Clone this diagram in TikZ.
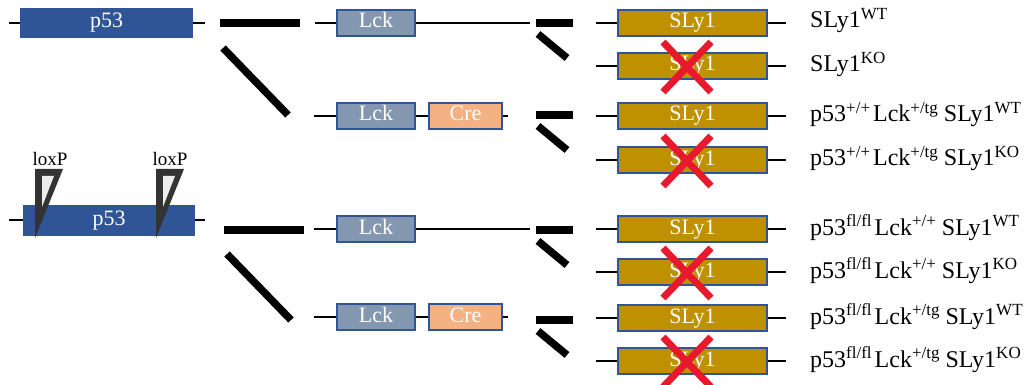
\documentclass[tikz,border=0pt]{standalone}
\usepackage{fontspec}
\setmainfont{Liberation Serif}
\usetikzlibrary{calc}
\definecolor{pblue}{HTML}{2F5597}
\definecolor{lckfill}{HTML}{8497B0}
\definecolor{crefill}{HTML}{F4B183}
\definecolor{slyfill}{HTML}{BF9000}
\definecolor{xred}{HTML}{E8192C}
\definecolor{loxdark}{HTML}{333333}
\definecolor{loxlight}{HTML}{EDEDED}
\newcommand\sps[1]{\raisebox{0.36em}{\fontsize{17}{17}\selectfont #1}}
\begin{document}
\begin{tikzpicture}[x=1pt,y=-1pt,
  box/.style={line width=2pt, draw=pblue, text=white, font=\fontsize{22}{22}\selectfont,
    inner sep=0pt, text height=14.5pt, text depth=4.5pt, minimum height=26pt},
  p53box/.style={box, fill=pblue, line width=0.6pt, minimum height=29pt, minimum width=172pt},
  lckbox/.style={box, fill=lckfill, minimum width=78pt},
  crebox/.style={box, fill=crefill, minimum width=73pt},
  slybox/.style={box, fill=slyfill, minimum width=149pt},
  thinline/.style={line width=1.1pt, draw=black},
  bar/.style={line width=7.5pt, draw=black},
  sbar/.style={line width=7.5pt, draw=black},
  xline/.style={line width=7pt, draw=xred},
  lbl/.style={anchor=base west, inner sep=0pt, font=\fontsize{24}{24}\selectfont},
  loxlbl/.style={anchor=base, inner sep=0pt, font=\fontsize{19}{19}\selectfont},
]
\useasboundingbox (0,0) rectangle (1031,385);

% ---------- top group: wild-type p53 ----------
\coordinate (pa1) at (9,23); \coordinate (pa2) at (205,23);
\draw[thinline] (pa1) -- (pa2);
\node[p53box] (p53a) at (106.5,23) {p53};

\coordinate (ba1) at (220,23); \coordinate (ba2) at (300,23);
\draw[bar] (ba1) -- (ba2);
\coordinate (da1) at (223,48); \coordinate (da2) at (288,115);
\draw[bar] (da1) -- (da2);

% row Lck (y=23)
\coordinate (l1a) at (315,23); \coordinate (l1b) at (530,23);
\draw[thinline] (l1a) -- (l1b);
\node[lckbox] (lck1) at (376,23) {Lck};

% row Lck Cre (y=116)
\coordinate (l2a) at (314,116); \coordinate (l2b) at (508,116);
\draw[thinline] (l2a) -- (l2b);
\node[lckbox] (lck2) at (376,116) {Lck};
\node[crebox] (cre2) at (465.5,116) {Cre};

% ---------- bottom group: floxed p53 ----------
\coordinate (pb1) at (9,220); \coordinate (pb2) at (205,220);
\draw[thinline] (pb1) -- (pb2);
\node[p53box, minimum width=171pt, minimum height=30pt] (p53b) at (109,220) {p53};

% loxP triangles
\foreach \x/\n in {35/1,156/2}{
  \fill[loxdark] (\x,169) -- (\x+28,169) -- (\x,238) -- cycle;
  \fill[loxlight] (\x+7,176) -- (\x+19,176) -- (\x+7,207) -- cycle;
}
\node[loxlbl] (lox1) at (50,166) {loxP};
\node[loxlbl] (lox2) at (170,166) {loxP};

\coordinate (bb1) at (224,230); \coordinate (bb2) at (304,230);
\draw[bar] (bb1) -- (bb2);
\coordinate (db1) at (227,254); \coordinate (db2) at (291,320);
\draw[bar] (db1) -- (db2);

% row Lck (y=229)
\coordinate (l3a) at (314,229); \coordinate (l3b) at (530,229);
\draw[thinline] (l3a) -- (l3b);
\node[lckbox] (lck3) at (376,229) {Lck};

% row Lck Cre (y=317)
\coordinate (l4a) at (314,317); \coordinate (l4b) at (508,317);
\draw[thinline] (l4a) -- (l4b);
\node[lckbox] (lck4) at (376,317) {Lck};
\node[crebox] (cre4) at (465.5,317) {Cre};

% ---------- small bars ----------
\foreach \y/\n in {23/1,115/2,230/3,320/4}{
  \coordinate (sh\n a) at (536,\y); \coordinate (sh\n b) at (573,\y);
  \draw[sbar] (sh\n a) -- (sh\n b);
  \coordinate (sd\n a) at (538,\y+11); \coordinate (sd\n b) at (567,\y+35);
  \draw[sbar] (sd\n a) -- (sd\n b);
}

% ---------- SLy1 rows ----------
\foreach \y/\n in {23/1,66/2,116/3,160/4,229/5,272/6,318/7,361/8}{
  \coordinate (sa\n) at (596,\y); \coordinate (sb\n) at (786,\y);
  \draw[thinline] (sa\n) -- (sb\n);
  \node[slybox] (sly\n) at (692.5,\y) {SLy1};
}
% red crosses on knockouts
\foreach \y in {67,161,273,362}{
  \draw[xline] (663,\y-25) -- (711,\y+25);
  \draw[xline] (711,\y-25) -- (663,\y+25);
}

% ---------- labels ----------
\node[lbl] (t1) at (810,28) {SLy1\sps{WT}};
\node[lbl] (t2) at (810,72) {SLy1\sps{KO}};
\node[lbl] (t3) at (810,122) {p53\sps{+/+}\hspace{3pt}Lck\sps{+/tg} SLy1\sps{WT}};
\node[lbl] (t4) at (810,166) {p53\sps{+/+}\hspace{3pt}Lck\sps{+/tg} SLy1\sps{KO}};
\node[lbl] (t5) at (810,235) {p53\sps{fl/fl}\hspace{3pt}Lck\sps{+/+} SLy1\sps{WT}};
\node[lbl] (t6) at (810,278) {p53\sps{fl/fl}\hspace{3pt}Lck\sps{+/+} SLy1\sps{KO}};
\node[lbl] (t7) at (810,324) {p53\sps{fl/fl}\hspace{3pt}Lck\sps{+/tg} SLy1\sps{WT}};
\node[lbl] (t8) at (810,367) {p53\sps{fl/fl}\hspace{3pt}Lck\sps{+/tg} SLy1\sps{KO}};
\end{tikzpicture}
\end{document}
